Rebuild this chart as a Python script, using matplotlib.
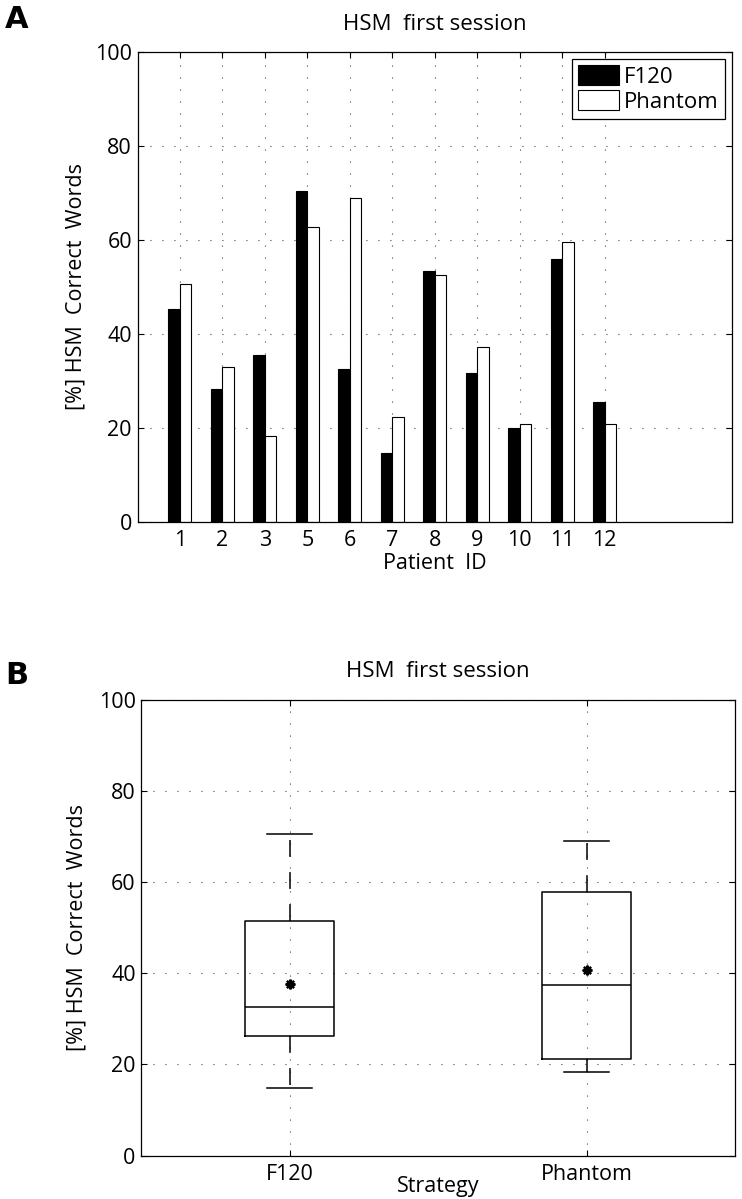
import numpy as np
import matplotlib
matplotlib.use('Agg')
import matplotlib.pyplot as plt

# data (percent correct words, HSM sentences, first session)
patient_ids = ['1', '2', '3', '5', '6', '7', '8', '9', '10', '11', '12']
f120 = [45.3, 28.4, 35.5, 70.4, 32.6, 14.7, 53.5, 31.8, 19.9, 55.9, 25.5]
phantom = [50.6, 33.0, 18.4, 62.8, 68.9, 22.3, 52.5, 37.3, 20.8, 59.5, 20.8]
strategies = ['F120', 'Phantom']

title = 'HSM  first session'
ylab = '[%] HSM  Correct  Words'

plt.rcParams['font.family'] = ['Open Sans', 'DejaVu Sans']
plt.rcParams['font.size'] = 15

grid_style = dict(linestyle=(0, (0.8, 10)), linewidth=0.8, color='0.1')


def matlab_stats(values, label):
    """ box stats the way MATLAB boxplot computes them (hazen percentiles) """
    v = np.asarray(values)
    q1, med, q3 = np.percentile(v, [25, 50, 75], method='hazen')
    iqr = q3 - q1
    lo = v[v >= q1 - 1.5 * iqr].min()
    hi = v[v <= q3 + 1.5 * iqr].max()
    return dict(label=label, med=med, q1=q1, q3=q3, whislo=lo, whishi=hi,
                mean=v.mean(), fliers=v[(v < lo) | (v > hi)])


def style_axes(ax):
    ax.tick_params(direction='in', top=True, right=True, length=4, width=0.8,
                   labelsize=15.5)
    ax.tick_params(axis='y', pad=4)
    for s in ax.spines.values():
        s.set_linewidth(0.9)
    ax.set_axisbelow(True)
    ax.grid(True, **grid_style)


fig = plt.figure(figsize=(7.42, 11.99), dpi=100)

# ---- A: bars per patient
ax1 = fig.add_axes([137.5 / 742, 1 - 522 / 1199, (732 - 137.5) / 742, 470 / 1199])
pos = np.arange(1, len(patient_ids) + 1)
w = 0.27
ax1.bar(pos - w / 2, f120, w, color='black', edgecolor='black', linewidth=0.8, label='F120')
ax1.bar(pos + w / 2, phantom, w, color='white', edgecolor='black', linewidth=0.8, label='Phantom')
ax1.set_xlim(0, 14)
ax1.set_ylim(0, 100)
ax1.set_xticks(pos)
ax1.set_xticklabels(patient_ids)
ax1.set_yticks(np.arange(0, 101, 20))
style_axes(ax1)
ax1.tick_params(axis='x', pad=6)
ax1.set_title(title, fontsize=16, pad=16)
ax1.set_ylabel(ylab, fontsize=15.5)
ax1.yaxis.set_label_coords(-0.085, 0.5)
ax1.set_xlabel('Patient  ID', fontsize=15.5, labelpad=1)
leg = ax1.legend(loc='upper right', fontsize=16, fancybox=False, framealpha=1,
                 edgecolor='black', borderpad=0.3, borderaxespad=0.3,
                 handlelength=1.85, handleheight=1.0, handletextpad=0.2,
                 labelspacing=0.1)
leg.get_frame().set_linewidth(0.9)

# ---- B: boxplot per strategy
ax2 = fig.add_axes([141.3 / 742, 1 - 1155.5 / 1199, (735 - 141.3) / 742, 456 / 1199])
stats = [matlab_stats(f120, strategies[0]), matlab_stats(phantom, strategies[1])]
ax2.bxp(stats, positions=[1, 2], widths=0.3, capwidths=0.15, showmeans=True,
        boxprops=dict(color='black', linewidth=1.1),
        medianprops=dict(color='black', linewidth=1.1),
        whiskerprops=dict(color='black', linewidth=1.1, linestyle=(0, (11, 10))),
        capprops=dict(color='black', linewidth=1.1),
        meanprops=dict(marker=(8, 2, 0), markerfacecolor='black', markeredgecolor='black',
                       markersize=7, markeredgewidth=1.6))
ax2.set_xlim(0.5, 2.5)
ax2.set_ylim(0, 100)
ax2.set_yticks(np.arange(0, 101, 20))
style_axes(ax2)
ax2.tick_params(axis='x', pad=6)
ax2.set_title(title, fontsize=16, pad=16)
ax2.set_ylabel(ylab, fontsize=15.5)
ax2.yaxis.set_label_coords(-0.09, 0.5)
ax2.set_xlabel('Strategy', fontsize=15.5)
ax2.xaxis.set_label_coords(0.5, -0.045)

fig.text(17 / 742, 1 - 20 / 1199, 'A', fontsize=22, fontweight='bold',
         ha='center', va='center', family='DejaVu Sans')
fig.text(17 / 742, 1 - 675 / 1199, 'B', fontsize=22, fontweight='bold',
         ha='center', va='center', family='DejaVu Sans')

fig.savefig('out.png', dpi=100)
